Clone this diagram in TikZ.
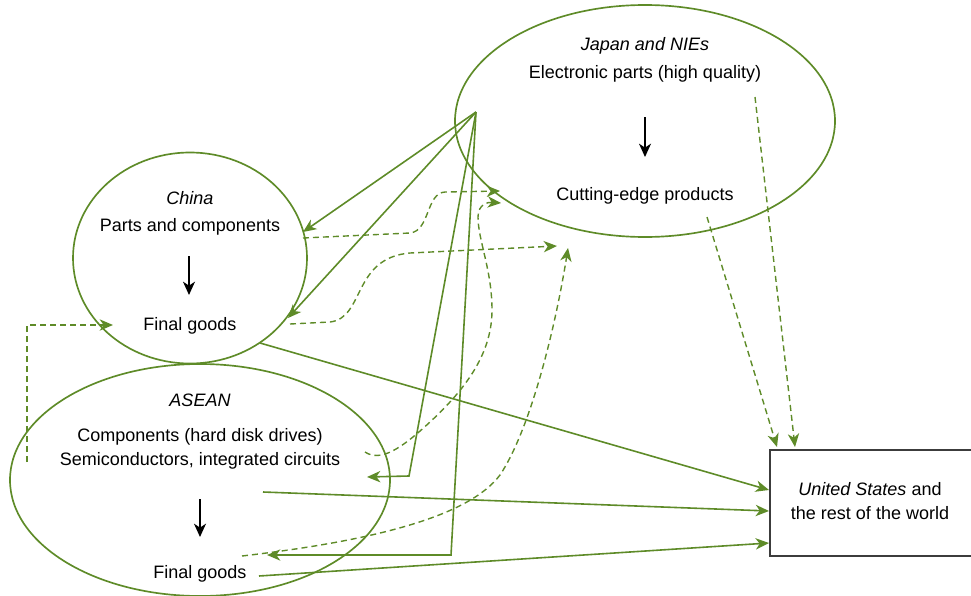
\documentclass[tikz,border=0pt]{standalone}
\usepackage{fontspec}
\setmainfont{Liberation Sans}
\usetikzlibrary{shapes.geometric,arrows.meta}
\definecolor{grn}{RGB}{94,139,40}
\definecolor{boxgray}{RGB}{60,60,60}
\begin{document}
\begin{tikzpicture}[x=0.75pt,y=-0.75pt,
  every node/.style={font=\fontsize{13.5pt}{16pt}\selectfont},
  txt/.style={inner sep=0pt, text height=9.7pt, text depth=0pt},
  region/.style={draw=grn, line width=1.25pt, ellipse, inner sep=0pt},
  flow/.style={draw=grn, line width=1.2pt, -{Stealth[length=10pt,width=8.5pt,inset=3pt]}},
  dflow/.style={flow, line width=1.05pt, dash pattern=on 4.5pt off 3pt},
  inner/.style={draw=black, line width=1pt, -{Stealth[length=10pt,width=9pt,inset=3pt]}},
  usbox/.style={draw=boxgray, line width=1.5pt, inner sep=0pt, anchor=north west}
]
\useasboundingbox (0,0) rectangle (971,596);

% regions
\node[region, minimum width=285pt, minimum height=174pt] (japan) at (645,121) {};
\node[region, minimum width=175.5pt, minimum height=158.25pt] (china) at (190,258) {};
\node[region, minimum width=285pt, minimum height=174pt] (asean) at (200,480) {};
\node[usbox, minimum width=155pt, minimum height=79.5pt] (us) at (769,449) {};

% texts
\node[txt] (jt) at (645,44) {\itshape Japan and NIEs};
\node[txt] (jp) at (645,72) {Electronic parts (high quality)};
\node[txt] (jc) at (645,194) {Cutting-edge products};
\node[txt] (ct) at (190,198) {\itshape China};
\node[txt] (cp) at (190,225) {Parts and components};
\node[txt] (cf) at (190,324) {Final goods};
\node[txt] (at) at (200,400) {\itshape ASEAN};
\node[txt] (a1) at (200,435) {Components (hard disk drives)};
\node[txt] (a2) at (200,459) {Semiconductors, integrated circuits};
\node[txt] (af) at (200,572) {Final goods};
\node[txt] (u1) at (870,489) {\itshape United States\upshape\ and};
\node[txt] (u2) at (870,513) {the rest of the world};

% inner black arrows
\coordinate (js) at (645,117); \coordinate (je) at (645,157);
\coordinate (cs) at (189,256); \coordinate (ce) at (189,295);
\coordinate (as) at (200,499); \coordinate (ae) at (200,537);
\draw[inner] (js) -- (je);
\draw[inner] (cs) -- (ce);
\draw[inner] (as) -- (ae);

% hub in Japan
\coordinate (hub) at (476,112);
\coordinate (cpin) at (303,232);
\coordinate (cfin) at (288,318);
\coordinate (a2in) at (367,477);
\coordinate (afin) at (267,555);
\draw[flow] (hub) -- (cpin);
\draw[flow] (hub) -- (cfin);
\draw[flow] (hub) -- (409,476) -- (a2in);
\draw[flow] (hub) -- (451,555) -- (afin);

% to United States
\coordinate (cfout) at (260,343);
\coordinate (a1out) at (263,492);
\coordinate (afout) at (259,576);
\coordinate (us1) at (769,490);
\coordinate (us2) at (769,511);
\coordinate (us3) at (769,543);
\draw[flow] (cfout) -- (us1);
\draw[flow] (a1out) -- (us2);
\draw[flow] (afout) -- (us3);

% dashed flows
\coordinate (cpout) at (303,238);
\coordinate (jin1) at (500,191);
\draw[dflow] (cpout) -- (410,233) .. controls (430,231) and (426,193) .. (445,192) -- (jin1);

\coordinate (cfout2) at (290,324);
\coordinate (jin2) at (557,246);
\draw[dflow] (cfout2) -- (330,322) .. controls (365,318) and (352,258) .. (410,253) -- (jin2);

\coordinate (a2out) at (365,452);
\coordinate (jin3) at (501,203);
\draw[dflow] (a2out) .. controls (380,462) and (400,450) .. (430,422)
  .. controls (470,385) and (492,350) .. (492,310)
  .. controls (492,270) and (478,240) .. (478,217)
  .. controls (478,204) and (488,202) .. (jin3);

\coordinate (afout2) at (242,556);
\coordinate (jin4) at (568,248);
\draw[dflow] (afout2) .. controls (380,540) and (470,515) .. (500,475)
  .. controls (530,430) and (555,330) .. (jin4);

\coordinate (aleft) at (27,462);
\coordinate (cfleft) at (113,325);
\draw[dflow] (aleft) -- (27,325) -- (cfleft);

\coordinate (jcout) at (707,217);
\coordinate (jpout) at (755,97);
\coordinate (ustop1) at (777,447);
\coordinate (ustop2) at (795,447);
\draw[dflow] (jcout) -- (ustop1);
\draw[dflow] (jpout) -- (ustop2);
\end{tikzpicture}
\end{document}
